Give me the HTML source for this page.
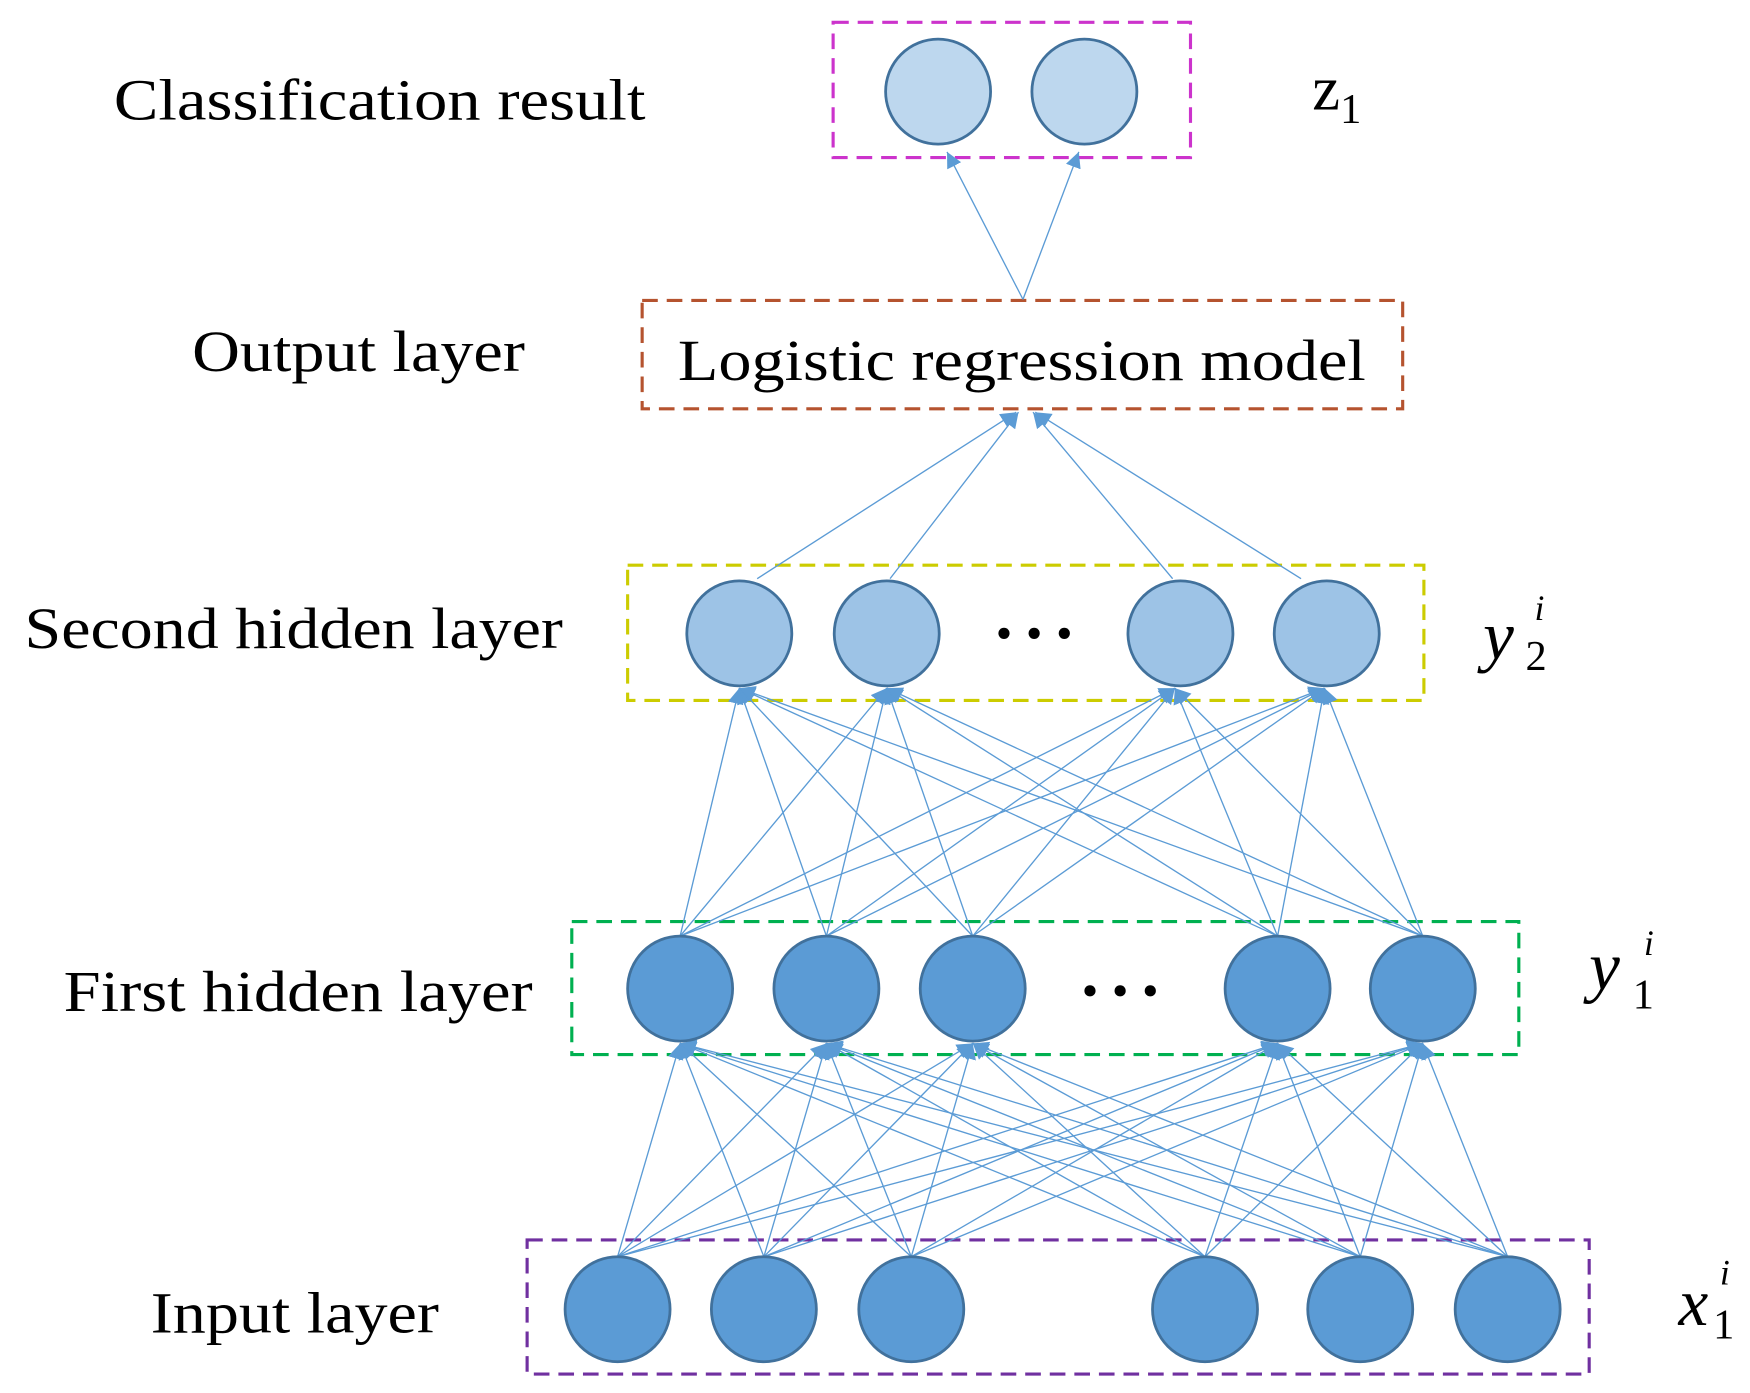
<!DOCTYPE html>
<html><head><meta charset="utf-8"><style>html,body{margin:0;padding:0;background:#fff}svg{display:block}</style></head>
<body>
<svg width="1750" height="1393" viewBox="0 0 1567 1247" preserveAspectRatio="none" xmlns="http://www.w3.org/2000/svg" font-family="'Liberation Serif', serif">
<defs>
<marker id="a" viewBox="0 0 10 10" refX="10" refY="5" markerWidth="14" markerHeight="14" markerUnits="userSpaceOnUse" orient="auto"><path d="M0,0 L10,5 L0,10 z" fill="#5b9bd5"/></marker>
</defs>
<g fill="none" stroke-width="2.8" stroke-dasharray="14,8">
<rect x="746" y="20" width="320" height="121" stroke="#cc33cc"/>
<rect x="575" y="269" width="681" height="97" stroke="#b5532f"/>
<rect x="562" y="506" width="713" height="121" stroke="#cccc00"/>
<rect x="512" y="825" width="848" height="119" stroke="#00b050"/>
<rect x="472" y="1110" width="951" height="120" stroke="#7030a0"/>
</g>
<g stroke="#5b9bd5" stroke-width="1.2" marker-end="url(#a)" id="lines"></g>
<g stroke="#41719c" stroke-width="2.5">
<circle cx="840" cy="82" r="47" fill="#bdd7ee"/><circle cx="971" cy="82" r="47" fill="#bdd7ee"/>
<g fill="#9dc3e6"><circle cx="662" cy="567" r="47"/><circle cx="794" cy="567" r="47"/><circle cx="1057" cy="567" r="47"/><circle cx="1188" cy="567" r="47"/></g>
<g fill="#5b9bd5"><circle cx="609" cy="885" r="47"/><circle cx="740" cy="885" r="47"/><circle cx="871" cy="885" r="47"/><circle cx="1144" cy="885" r="47"/><circle cx="1274" cy="885" r="47"/>
<circle cx="553" cy="1172" r="47"/><circle cx="684" cy="1172" r="47"/><circle cx="816" cy="1172" r="47"/><circle cx="1079" cy="1172" r="47"/><circle cx="1218" cy="1172" r="47"/><circle cx="1350" cy="1172" r="47"/></g>
</g>
<g fill="#000">
<circle cx="899" cy="567" r="5"/><circle cx="926" cy="567" r="5"/><circle cx="953" cy="567" r="5"/>
<circle cx="976" cy="887" r="5"/><circle cx="1003" cy="887" r="5"/><circle cx="1030" cy="887" r="5"/>
</g>
<g font-size="52" fill="#000">
<text x="102" y="107" textLength="476" lengthAdjust="spacingAndGlyphs">Classification result</text>
<text x="172" y="332" textLength="298" lengthAdjust="spacingAndGlyphs">Output layer</text>
<text x="607" y="340" textLength="616" lengthAdjust="spacingAndGlyphs">Logistic regression model</text>
<text x="22" y="580" textLength="482" lengthAdjust="spacingAndGlyphs">Second hidden layer</text>
<text x="57" y="905" textLength="420" lengthAdjust="spacingAndGlyphs">First hidden layer</text>
<text x="135" y="1193" textLength="258" lengthAdjust="spacingAndGlyphs">Input layer</text>
<text x="1175" y="98" font-size="56">z</text><text x="1200" y="110" font-size="38">1</text>
<text x="1328" y="590" font-style="italic" font-size="62">y</text><text x="1366" y="600" font-size="38">2</text><text x="1374" y="555" font-size="32" font-style="italic">i</text>
<text x="1423" y="886" font-style="italic" font-size="62">y</text><text x="1462" y="903" font-size="38">1</text><text x="1472" y="855" font-size="32" font-style="italic">i</text>
<text x="1503" y="1186" font-style="italic" font-size="60">x</text><text x="1534" y="1198" font-size="38">1</text><text x="1540" y="1150" font-size="32" font-style="italic">i</text>
</g>
<g stroke="#5b9bd5" stroke-width="1.2" marker-end="url(#a)">
<line x1="916" y1="268" x2="848" y2="136"/><line x1="916" y1="268" x2="966" y2="136"/>
<line x1="678" y1="518" x2="910" y2="369"/><line x1="797" y1="518" x2="912" y2="369"/><line x1="1050" y1="518" x2="925" y2="369"/><line x1="1165" y1="518" x2="927" y2="369"/>
</g>
<script>
var g=document.getElementById('lines'),ns='http://www.w3.org/2000/svg';
function L(x1,y1,x2,y2){var l=document.createElementNS(ns,'line');l.setAttribute('x1',x1);l.setAttribute('y1',y1);l.setAttribute('x2',x2);l.setAttribute('y2',y2);g.appendChild(l);}
var h2=[662,794,1052,1186],h1=[609,740,871,1144,1274],inp=[553,684,816,1079,1218,1350];
h1.forEach(function(a){h2.forEach(function(b){L(a,838,b,616);});});
inp.forEach(function(a){h1.forEach(function(b){L(a,1125,b,934);});});
</script>
</svg>
</body></html>
